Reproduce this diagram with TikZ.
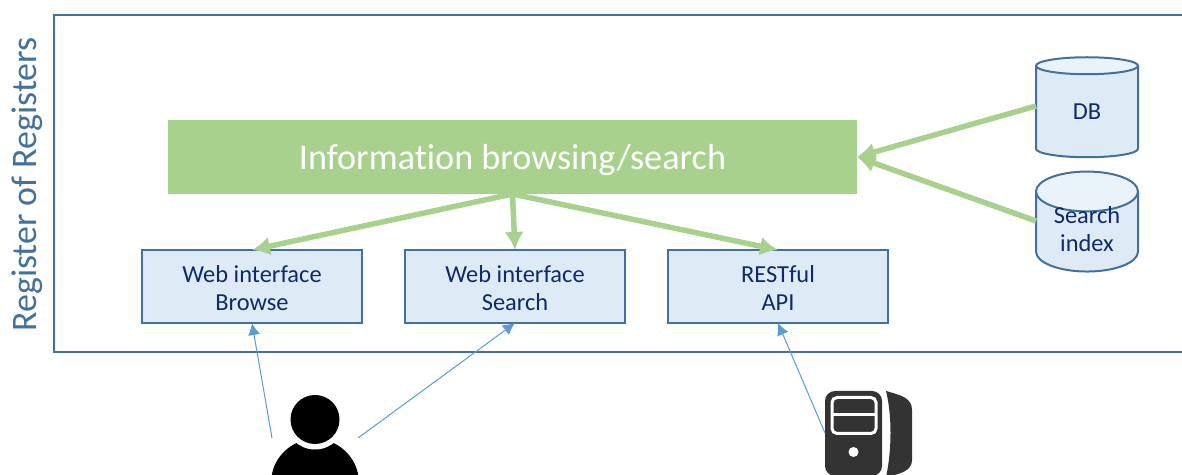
\documentclass[tikz,border=0pt]{standalone}
\usepackage{fontspec}
\setmainfont[Ligatures=NoCommon]{Carlito}
\usepackage{tikz}
\usetikzlibrary{positioning,calc,shapes.geometric,arrows.meta}
\definecolor{frameblue}{HTML}{41719C}
\definecolor{boxfill}{HTML}{DEEBF7}
\definecolor{capfill}{HTML}{EAF2FA}
\definecolor{boxtext}{HTML}{0F2A68}
\definecolor{flowgreen}{HTML}{A9D18E}
\definecolor{linkblue}{HTML}{5B9BD5}
\definecolor{serverdark}{HTML}{333333}
\tikzset{
    servicebox/.style={draw=frameblue, line width=0.04cm, fill=boxfill, text=boxtext, minimum width=4.4cm, minimum height=1.46cm, align=center, outer sep=0pt, font=\fontsize{13.9}{16}\selectfont, text height=0.97cm},
    storebox/.style={cylinder, shape border rotate=90, shape aspect=0.6, draw=frameblue, line width=0.04cm, cylinder uses custom fill, cylinder body fill=boxfill, cylinder end fill=capfill, text=boxtext, minimum width=2.04cm, minimum height=2cm, align=center, inner sep=0pt, outer sep=0pt, font=\fontsize{13.9}{16}\selectfont},
    flow/.style={draw=flowgreen, line width=0.11cm, -{Latex[length=0.36cm,width=0.38cm]}},
    link/.style={draw=linkblue, line width=0.02cm, -{Latex[length=0.24cm,width=0.24cm]}}
}
\begin{document}
\begin{tikzpicture}
    \useasboundingbox (0,0) rectangle (23.64,9.5);
    \draw[frameblue, line width=0.04cm] (23.64,9.2) -- (1.08,9.2) -- (1.08,2.46) -- (23.64,2.46);
    \node[rotate=90, text=frameblue, font=\fontsize{20.4}{24}\selectfont] (title) at (0.55,5.81) {Register of Registers};
    \node[fill=flowgreen, text=white, minimum width=13.78cm, minimum height=1.48cm, outer sep=0pt, font=\fontsize{20.6}{24}\selectfont, text height=0.61cm] (browsing) at (10.25,6.36) {Information browsing/search};
    \node[servicebox] (browse) at (5.04,3.77) {Web interface\\Browse};
    \node[servicebox] (search) at (10.3,3.77) {Web interface\\Search};
    \node[servicebox] (api) at (15.56,3.77) {RESTful\\API};
    \node[storebox] (db) at (21.74,7.26) {DB};
    \node[storebox, text height=0.77cm] (index) at (21.74,4.86) {Search\\index};
    \draw[flow] ($(db.west)+(0,0.12)$) -- (browsing.east);
    \draw[flow] ($(index.west -| db.west)+(0,0.22)$) -- (browsing.east);
    \draw[flow] (browsing.south) -- (browse.north);
    \draw[flow] (browsing.south) -- (search.north);
    \draw[flow] (browsing.south) -- (api.north);
    % person and server, cut off by the lower edge
    \begin{scope}
        \clip (0,0) rectangle (23.64,9.5);
        \fill[black] (6.3,-0.16) circle (0.88cm);
        \fill[white] (6.3,1.11) circle (0.6cm);
        \fill[black] (6.3,1.11) circle (0.49cm);
        \fill[serverdark, rounded corners=0.2cm] (16.5,-0.02) rectangle (17.64,1.68);
        \fill[serverdark] (17.72,1.68) .. controls (18.0,1.6) and (18.24,1.55) .. (18.24,1.3) -- (18.24,0.3) .. controls (18.24,0.08) and (18.0,0.02) .. (17.72,-0.04) .. controls (17.84,0.5) and (17.84,1.2) .. (17.72,1.68);
        \draw[white, line width=0.06cm, rounded corners=0.1cm] (16.64,1.55) rectangle (17.52,0.83);
        \draw[white, line width=0.06cm] (16.64,1.2) -- (17.52,1.2);
        \fill[white] (17.07,0.46) circle (0.1cm);
    \end{scope}
    \coordinate (userleft) at (5.44,0.74);
    \coordinate (userright) at (7.16,0.74);
    \coordinate (serverleft) at (16.5,0.84);
    \draw[link] (userleft) -- (browse.south);
    \draw[link] (userright) -- (search.south);
    \draw[link] (serverleft) -- (api.south);
\end{tikzpicture}
\end{document}
